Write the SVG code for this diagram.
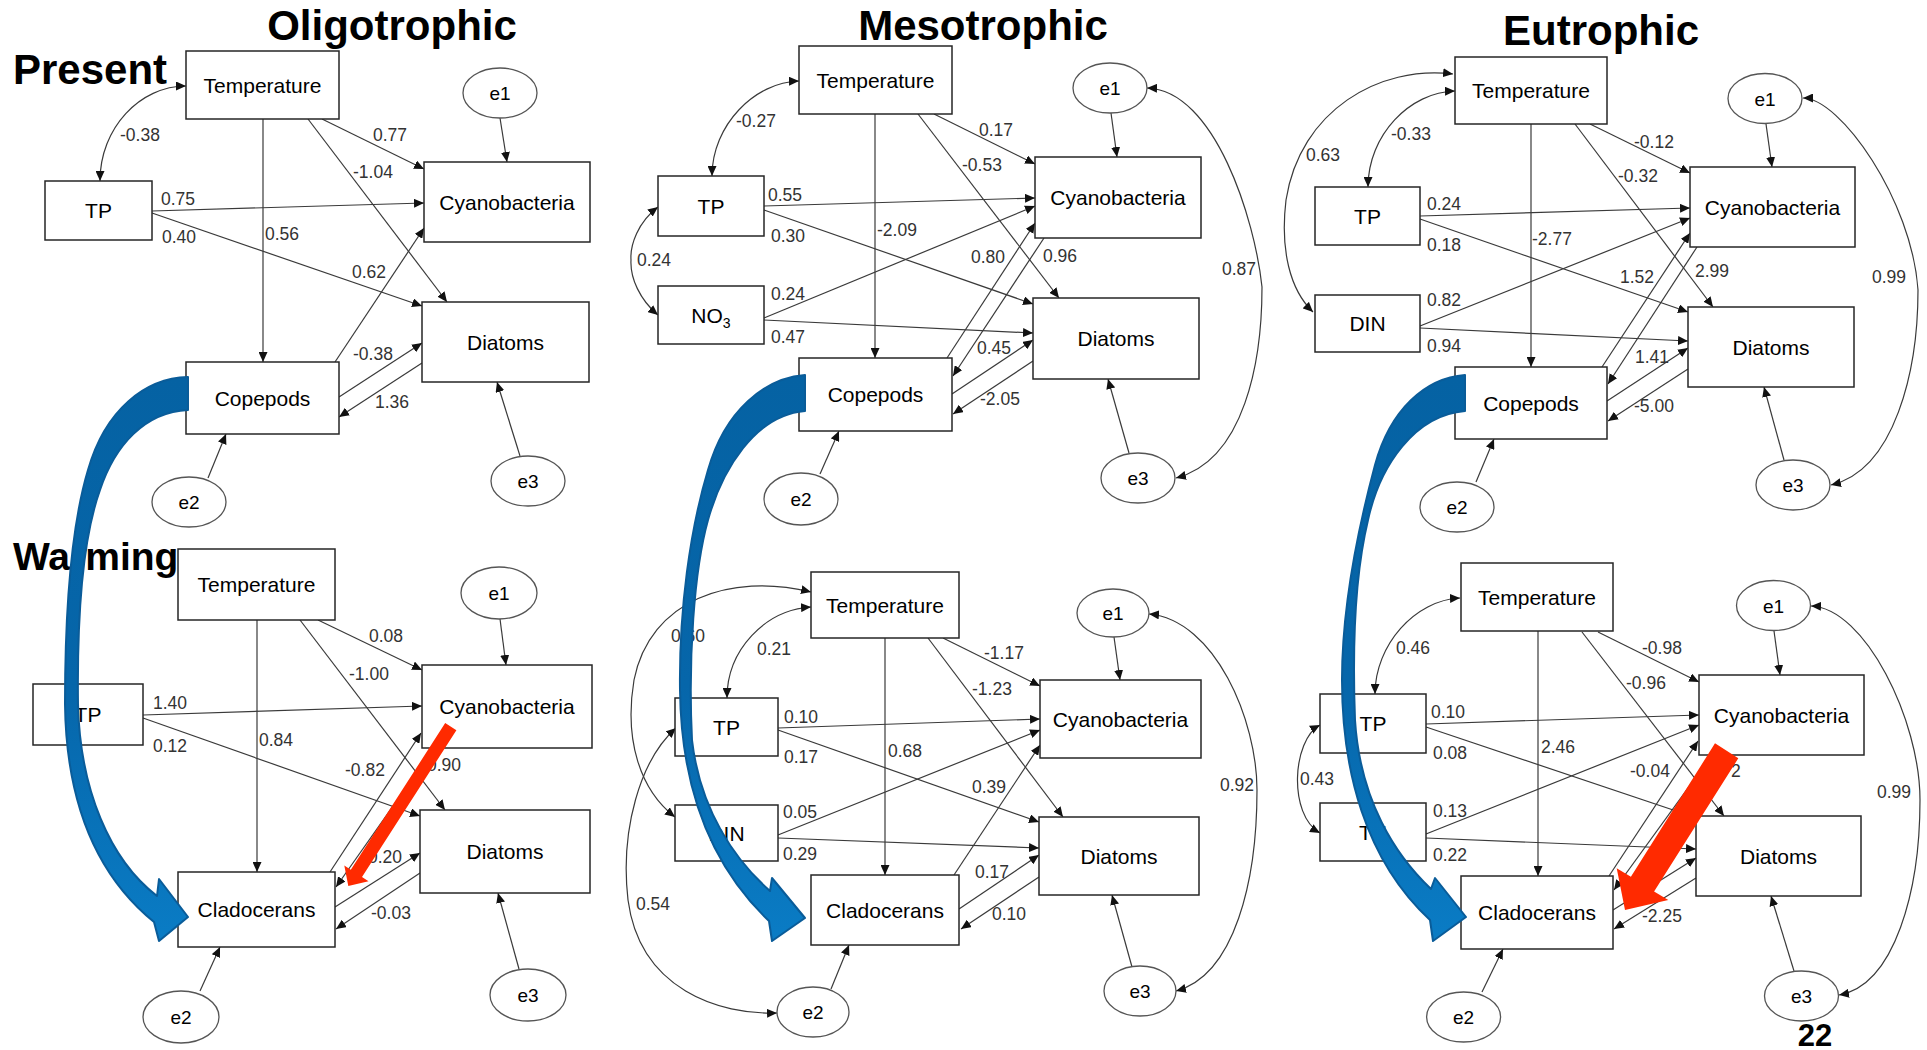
<svg xmlns="http://www.w3.org/2000/svg" width="1927" height="1050" viewBox="0 0 1927 1050">
<style>
.box{fill:#fff;stroke:#262626;stroke-width:1.5}
.ell{fill:#fff;stroke:#555;stroke-width:1.3}
.nt{font-family:"Liberation Sans",Arial,sans-serif;font-size:21px;text-anchor:middle;fill:#000}
.et{font-family:"Liberation Sans",Arial,sans-serif;font-size:19px;text-anchor:middle;fill:#000}
.lb{font-family:"Liberation Sans",Arial,sans-serif;font-size:17.5px;fill:#333}
.ttl{font-family:"Liberation Sans",Arial,sans-serif;font-weight:bold;fill:#000}
.e{fill:none;stroke:#3a3a3a;stroke-width:1.2;marker-end:url(#ah)}
.d{fill:none;stroke:#3a3a3a;stroke-width:1.2;marker-start:url(#ah);marker-end:url(#ah)}
.blue{fill:url(#bg);stroke:#0a5c99;stroke-width:2;stroke-linejoin:round}
.red{fill:#ff2a00}
</style>
<defs>
<marker id="ah" viewBox="0 0 10 9" refX="10" refY="4.5" markerWidth="10" markerHeight="9" markerUnits="userSpaceOnUse" orient="auto-start-reverse"><path d="M0,0 L10,4.5 L0,9 z" fill="#111"/></marker>
<linearGradient id="bg" x1="0" y1="0" x2="0" y2="1"><stop offset="0" stop-color="#0562a3"/><stop offset="0.55" stop-color="#0666aa"/><stop offset="1" stop-color="#0a7cc5"/></linearGradient>
</defs>
<rect width="1927" height="1050" fill="#fff"/>

<g id="titles">
<text class="ttl" x="392" y="40" font-size="42" text-anchor="middle">Oligotrophic</text>
<text class="ttl" x="983" y="40" font-size="42" text-anchor="middle">Mesotrophic</text>
<text class="ttl" x="1601" y="45" font-size="42" text-anchor="middle">Eutrophic</text>
<text class="ttl" x="13" y="84" font-size="42">Present</text>
<text class="ttl" x="13" y="570" font-size="39">Warming</text>
<text class="ttl" x="1815" y="1046" font-size="31" text-anchor="middle">22</text>
</g>

<g id="connectors">
<!-- Panel 1 -->
<path class="d" d="M186,86 C140,86 100,128 100,181"/>
<path class="e" d="M322,119 L424,169"/>
<path class="e" d="M308,119 L447,302"/>
<path class="e" d="M263,119 L263,362"/>
<path class="e" d="M152,211 L424,203"/>
<path class="e" d="M152,213 L422,306"/>
<path class="e" d="M335,362 L424,228"/>
<path class="e" d="M339,397 L422,343"/>
<path class="e" d="M422,363 L339,417"/>
<path class="e" d="M500,118 L507,162"/>
<path class="e" d="M520,456 L497,382"/>
<path class="e" d="M208,478 L226,434"/>
<text class="lb" x="120" y="141">-0.38</text>
<text class="lb" x="373" y="141">0.77</text>
<text class="lb" x="353" y="178">-1.04</text>
<text class="lb" x="161" y="205">0.75</text>
<text class="lb" x="162" y="243">0.40</text>
<text class="lb" x="265" y="240">0.56</text>
<text class="lb" x="352" y="278">0.62</text>
<text class="lb" x="353" y="360">-0.38</text>
<text class="lb" x="375" y="408">1.36</text>
<!-- Panel 4 -->
<path class="e" d="M257,620 L257,872"/>
<path class="e" d="M318,620 L422,670"/>
<path class="e" d="M300,620 L445,810"/>
<path class="e" d="M143,715 L422,706"/>
<path class="e" d="M143,718 L420,816"/>
<path class="e" d="M330,872 L421,733"/>
<path class="e" d="M434,748 L336,887"/>
<path class="e" d="M335,907 L420,853"/>
<path class="e" d="M420,873 L336,929"/>
<path class="e" d="M500,619 L506,665"/>
<path class="e" d="M519,969 L498,893"/>
<path class="e" d="M200,991 L220,947"/>
<text class="lb" x="369" y="642">0.08</text>
<text class="lb" x="349" y="680">-1.00</text>
<text class="lb" x="153" y="709">1.40</text>
<text class="lb" x="153" y="752">0.12</text>
<text class="lb" x="259" y="746">0.84</text>
<text class="lb" x="345" y="776">-0.82</text>
<text class="lb" x="427" y="771">0.90</text>
<text class="lb" x="368" y="863">0.20</text>
<text class="lb" x="371" y="919">-0.03</text>
<!-- Panel 2 -->
<path class="d" d="M799,81 C755,82 712,125 712,176"/>
<path class="d" d="M658,207 C638,222 630,245 631,260 C630,278 640,300 658,315"/>
<path class="e" d="M934,114 L1035,164"/>
<path class="e" d="M918,114 L1059,298"/>
<path class="e" d="M875,114 L875,358"/>
<path class="e" d="M764,206 L1035,198"/>
<path class="e" d="M764,210 L1033,304"/>
<path class="e" d="M764,318 L1035,206"/>
<path class="e" d="M764,320 L1033,333"/>
<path class="e" d="M947,358 L1035,223"/>
<path class="e" d="M1044,238 L953,376"/>
<path class="e" d="M952,394 L1033,340"/>
<path class="e" d="M1033,361 L953,414"/>
<path class="e" d="M1111,113 L1117,157"/>
<path class="e" d="M1129,453 L1108,379"/>
<path class="e" d="M820,474 L839,431"/>
<path class="d" d="M1147,88 C1215,90 1255,220 1262,287 C1262,360 1245,460 1176,478"/>
<text class="lb" x="736" y="127">-0.27</text>
<text class="lb" x="637" y="266">0.24</text>
<text class="lb" x="979" y="136">0.17</text>
<text class="lb" x="962" y="171">-0.53</text>
<text class="lb" x="877" y="236">-2.09</text>
<text class="lb" x="768" y="201">0.55</text>
<text class="lb" x="771" y="242">0.30</text>
<text class="lb" x="771" y="300">0.24</text>
<text class="lb" x="771" y="343">0.47</text>
<text class="lb" x="971" y="263">0.80</text>
<text class="lb" x="1043" y="262">0.96</text>
<text class="lb" x="977" y="354">0.45</text>
<text class="lb" x="980" y="405">-2.05</text>
<text class="lb" x="1222" y="275">0.87</text>
<!-- Panel 5 -->
<path class="d" d="M811,607 C765,610 727,650 727,698"/>
<path class="d" d="M811,592 C730,572 650,600 634,680 C624,740 640,790 675,817"/>
<path class="d" d="M676,728 C640,760 620,830 628,900 C640,990 720,1015 777,1013"/>
<path class="e" d="M943,638 L1040,686"/>
<path class="e" d="M928,638 L1063,817"/>
<path class="e" d="M885,638 L885,875"/>
<path class="e" d="M778,728 L1040,719"/>
<path class="e" d="M778,730 L1039,822"/>
<path class="e" d="M778,835 L1040,730"/>
<path class="e" d="M778,838 L1039,848"/>
<path class="e" d="M954,875 L1040,745"/>
<path class="e" d="M959,909 L1039,855"/>
<path class="e" d="M1039,877 L961,929"/>
<path class="e" d="M1114,637 L1120,680"/>
<path class="e" d="M1132,967 L1112,895"/>
<path class="e" d="M831,989 L849,945"/>
<path class="d" d="M1149,614 C1215,620 1257,720 1257,790 C1257,880 1235,975 1176,991"/>
<text class="lb" x="671" y="642">0.60</text>
<text class="lb" x="757" y="655">0.21</text>
<text class="lb" x="636" y="910">0.54</text>
<text class="lb" x="984" y="659">-1.17</text>
<text class="lb" x="972" y="695">-1.23</text>
<text class="lb" x="888" y="757">0.68</text>
<text class="lb" x="784" y="723">0.10</text>
<text class="lb" x="784" y="763">0.17</text>
<text class="lb" x="783" y="818">0.05</text>
<text class="lb" x="783" y="860">0.29</text>
<text class="lb" x="972" y="793">0.39</text>
<text class="lb" x="975" y="878">0.17</text>
<text class="lb" x="992" y="920">0.10</text>
<text class="lb" x="1220" y="791">0.92</text>
<!-- Panel 3 -->
<path class="d" d="M1455,91 C1410,92 1368,135 1368,187"/>
<path class="d" d="M1453,74 C1380,65 1300,110 1286,200 C1280,250 1290,290 1313,312"/>
<path class="e" d="M1590,124 L1690,173"/>
<path class="e" d="M1575,124 L1713,307"/>
<path class="e" d="M1531,124 L1531,367"/>
<path class="e" d="M1420,216 L1690,208"/>
<path class="e" d="M1420,219 L1688,312"/>
<path class="e" d="M1420,326 L1690,218"/>
<path class="e" d="M1420,328 L1688,341"/>
<path class="e" d="M1602,367 L1690,233"/>
<path class="e" d="M1697,247 L1608,384"/>
<path class="e" d="M1607,401 L1688,348"/>
<path class="e" d="M1688,369 L1608,421"/>
<path class="e" d="M1766,124 L1772,167"/>
<path class="e" d="M1784,460 L1764,387"/>
<path class="e" d="M1476,482 L1494,439"/>
<path class="d" d="M1803,98 C1840,98 1912,200 1918,290 C1918,370 1895,470 1831,485"/>
<text class="lb" x="1391" y="140">-0.33</text>
<text class="lb" x="1306" y="161">0.63</text>
<text class="lb" x="1634" y="148">-0.12</text>
<text class="lb" x="1618" y="182">-0.32</text>
<text class="lb" x="1532" y="245">-2.77</text>
<text class="lb" x="1427" y="210">0.24</text>
<text class="lb" x="1427" y="251">0.18</text>
<text class="lb" x="1427" y="306">0.82</text>
<text class="lb" x="1427" y="352">0.94</text>
<text class="lb" x="1620" y="283">1.52</text>
<text class="lb" x="1695" y="277">2.99</text>
<text class="lb" x="1635" y="363">1.41</text>
<text class="lb" x="1634" y="412">-5.00</text>
<text class="lb" x="1872" y="283">0.99</text>
<!-- Panel 6 -->
<path class="d" d="M1460,598 C1415,600 1375,645 1375,694"/>
<path class="d" d="M1320,725 C1292,740 1288,815 1320,833"/>
<path class="e" d="M1598,632 L1699,682"/>
<path class="e" d="M1582,632 L1724,816"/>
<path class="e" d="M1538,631 L1538,876"/>
<path class="e" d="M1426,724 L1699,715"/>
<path class="e" d="M1426,727 L1697,818"/>
<path class="e" d="M1426,834 L1699,725"/>
<path class="e" d="M1426,838 L1696,849"/>
<path class="e" d="M1609,876 L1698,741"/>
<path class="e" d="M1712,755 L1614,890"/>
<path class="e" d="M1613,910 L1696,858"/>
<path class="e" d="M1696,878 L1614,929"/>
<path class="e" d="M1774,631 L1780,675"/>
<path class="e" d="M1794,971 L1771,896"/>
<path class="e" d="M1482,992 L1503,949"/>
<path class="d" d="M1811,606 C1865,608 1920,720 1920,800 C1920,890 1895,985 1839,995"/>
<text class="lb" x="1396" y="654">0.46</text>
<text class="lb" x="1300" y="785">0.43</text>
<text class="lb" x="1642" y="654">-0.98</text>
<text class="lb" x="1626" y="689">-0.96</text>
<text class="lb" x="1541" y="753">2.46</text>
<text class="lb" x="1431" y="718">0.10</text>
<text class="lb" x="1433" y="759">0.08</text>
<text class="lb" x="1433" y="817">0.13</text>
<text class="lb" x="1433" y="861">0.22</text>
<text class="lb" x="1630" y="777">-0.04</text>
<text class="lb" x="1731" y="777">2</text>
<text class="lb" x="1642" y="922">-2.25</text>
<text class="lb" x="1877" y="798">0.99</text>
</g>

<!-- Panel 1 nodes -->
<g id="p1-temperature"><rect class="box" x="186" y="51" width="153" height="68"/><text class="nt" x="262.5" y="93">Temperature</text></g>
<g id="p1-e1"><ellipse class="ell" cx="500" cy="93" rx="37" ry="25"/><text class="et" x="500" y="100">e1</text></g>
<g id="p1-tp"><rect class="box" x="45" y="181" width="107" height="59"/><text class="nt" x="98.5" y="218">TP</text></g>
<g id="p1-cyano"><rect class="box" x="424" y="162" width="166" height="80"/><text class="nt" x="507" y="210">Cyanobacteria</text></g>
<g id="p1-diatoms"><rect class="box" x="422" y="302" width="167" height="80"/><text class="nt" x="505.5" y="350">Diatoms</text></g>
<g id="p1-copepods"><rect class="box" x="186" y="362" width="153" height="72"/><text class="nt" x="262.5" y="406">Copepods</text></g>
<g id="p1-e2"><ellipse class="ell" cx="189" cy="502" rx="37" ry="25"/><text class="et" x="189" y="509">e2</text></g>
<g id="p1-e3"><ellipse class="ell" cx="528" cy="481" rx="37" ry="25"/><text class="et" x="528" y="488">e3</text></g>

<!-- Panel 4 nodes -->
<g id="p4-temperature"><rect class="box" x="178" y="549" width="157" height="71"/><text class="nt" x="256.5" y="592">Temperature</text></g>
<g id="p4-e1"><ellipse class="ell" cx="499" cy="593" rx="38" ry="26"/><text class="et" x="499" y="600">e1</text></g>
<g id="p4-tp"><rect class="box" x="33" y="684" width="110" height="61"/><text class="nt" x="88" y="722">TP</text></g>
<g id="p4-cyano"><rect class="box" x="422" y="665" width="170" height="83"/><text class="nt" x="507" y="714">Cyanobacteria</text></g>
<g id="p4-diatoms"><rect class="box" x="420" y="810" width="170" height="83"/><text class="nt" x="505" y="859">Diatoms</text></g>
<g id="p4-cladocerans"><rect class="box" x="178" y="872" width="157" height="75"/><text class="nt" x="256.5" y="917">Cladocerans</text></g>
<g id="p4-e2"><ellipse class="ell" cx="181" cy="1017" rx="38" ry="26"/><text class="et" x="181" y="1024">e2</text></g>
<g id="p4-e3"><ellipse class="ell" cx="528" cy="995" rx="38" ry="26"/><text class="et" x="528" y="1002">e3</text></g>

<!-- Panel 2 nodes -->
<g id="p2-temperature"><rect class="box" x="799" y="46" width="153" height="68"/><text class="nt" x="875.5" y="88">Temperature</text></g>
<g id="p2-e1"><ellipse class="ell" cx="1110" cy="88" rx="37" ry="25"/><text class="et" x="1110" y="95">e1</text></g>
<g id="p2-tp"><rect class="box" x="658" y="176" width="106" height="60"/><text class="nt" x="711" y="214">TP</text></g>
<g id="p2-no3"><rect class="box" x="658" y="286" width="106" height="58"/><text class="nt" x="711" y="323">NO<tspan font-size="14" dy="5">3</tspan></text></g>
<g id="p2-cyano"><rect class="box" x="1035" y="157" width="166" height="81"/><text class="nt" x="1118" y="205">Cyanobacteria</text></g>
<g id="p2-diatoms"><rect class="box" x="1033" y="298" width="166" height="81"/><text class="nt" x="1116" y="346">Diatoms</text></g>
<g id="p2-copepods"><rect class="box" x="799" y="358" width="153" height="73"/><text class="nt" x="875.5" y="402">Copepods</text></g>
<g id="p2-e2"><ellipse class="ell" cx="801" cy="499" rx="37" ry="26"/><text class="et" x="801" y="506">e2</text></g>
<g id="p2-e3"><ellipse class="ell" cx="1138" cy="478" rx="37" ry="25"/><text class="et" x="1138" y="485">e3</text></g>

<!-- Panel 5 nodes -->
<g id="p5-temperature"><rect class="box" x="811" y="572" width="148" height="66"/><text class="nt" x="885" y="613">Temperature</text></g>
<g id="p5-e1"><ellipse class="ell" cx="1113" cy="613" rx="36" ry="24"/><text class="et" x="1113" y="620">e1</text></g>
<g id="p5-tp"><rect class="box" x="675" y="698" width="103" height="58"/><text class="nt" x="726.5" y="735">TP</text></g>
<g id="p5-din"><rect class="box" x="675" y="805" width="103" height="56"/><text class="nt" x="726.5" y="841">DIN</text></g>
<g id="p5-cyano"><rect class="box" x="1040" y="680" width="161" height="78"/><text class="nt" x="1120.5" y="727">Cyanobacteria</text></g>
<g id="p5-diatoms"><rect class="box" x="1039" y="817" width="160" height="78"/><text class="nt" x="1119" y="864">Diatoms</text></g>
<g id="p5-cladocerans"><rect class="box" x="811" y="875" width="148" height="70"/><text class="nt" x="885" y="918">Cladocerans</text></g>
<g id="p5-e2"><ellipse class="ell" cx="813" cy="1012" rx="36" ry="25"/><text class="et" x="813" y="1019">e2</text></g>
<g id="p5-e3"><ellipse class="ell" cx="1140" cy="991" rx="36" ry="25"/><text class="et" x="1140" y="998">e3</text></g>

<!-- Panel 3 nodes -->
<g id="p3-temperature"><rect class="box" x="1455" y="57" width="152" height="67"/><text class="nt" x="1531" y="98">Temperature</text></g>
<g id="p3-e1"><ellipse class="ell" cx="1765" cy="98.5" rx="37" ry="25"/><text class="et" x="1765" y="105.5">e1</text></g>
<g id="p3-tp"><rect class="box" x="1315" y="187" width="105" height="58"/><text class="nt" x="1367.5" y="224">TP</text></g>
<g id="p3-din"><rect class="box" x="1315" y="295" width="105" height="57"/><text class="nt" x="1367.5" y="331">DIN</text></g>
<g id="p3-cyano"><rect class="box" x="1690" y="167" width="165" height="80"/><text class="nt" x="1772.5" y="215">Cyanobacteria</text></g>
<g id="p3-diatoms"><rect class="box" x="1688" y="307" width="166" height="80"/><text class="nt" x="1771" y="355">Diatoms</text></g>
<g id="p3-copepods"><rect class="box" x="1455" y="367" width="152" height="72"/><text class="nt" x="1531" y="411">Copepods</text></g>
<g id="p3-e2"><ellipse class="ell" cx="1457" cy="507" rx="37" ry="25"/><text class="et" x="1457" y="514">e2</text></g>
<g id="p3-e3"><ellipse class="ell" cx="1793" cy="485" rx="37" ry="25"/><text class="et" x="1793" y="492">e3</text></g>

<!-- Panel 6 nodes -->
<g id="p6-temperature"><rect class="box" x="1461" y="563" width="152" height="68"/><text class="nt" x="1537" y="605">Temperature</text></g>
<g id="p6-e1"><ellipse class="ell" cx="1773.5" cy="605.5" rx="37" ry="25"/><text class="et" x="1773.5" y="612.5">e1</text></g>
<g id="p6-tp"><rect class="box" x="1320" y="694" width="106" height="59"/><text class="nt" x="1373" y="731">TP</text></g>
<g id="p6-tn"><rect class="box" x="1320" y="803" width="106" height="58"/><text class="nt" x="1373" y="840">TN</text></g>
<g id="p6-cyano"><rect class="box" x="1699" y="675" width="165" height="80"/><text class="nt" x="1781.5" y="723">Cyanobacteria</text></g>
<g id="p6-diatoms"><rect class="box" x="1696" y="816" width="165" height="80"/><text class="nt" x="1778.5" y="864">Diatoms</text></g>
<g id="p6-cladocerans"><rect class="box" x="1461" y="876" width="152" height="73"/><text class="nt" x="1537" y="920">Cladocerans</text></g>
<g id="p6-e2"><ellipse class="ell" cx="1463.6" cy="1017" rx="37" ry="25"/><text class="et" x="1463.6" y="1024">e2</text></g>
<g id="p6-e3"><ellipse class="ell" cx="1801.5" cy="996" rx="37" ry="25"/><text class="et" x="1801.5" y="1003">e3</text></g>

<g id="highlight-arrows">
<path class="blue" d="M188,377 C145,378 105,410 88,470 C70,530 65,620 65,704 C66,790 90,870 154,922 L159,941 L188,917 L159,879 L157,896 C110,860 80,790 78,704 C77,620 82,540 100,490 C115,445 145,412 188,410 Z"/>
<path class="blue" d="M805,375 C765,378 725,410 708,470 C690,530 679,610 680,690 C681,780 705,860 769,921 L772,941 L805,918 L772,878 L770,891 C735,860 700,810 692,740 C688,660 694,570 708,520 C722,470 755,415 805,411 Z"/>
<path class="blue" d="M1465,375 C1425,378 1390,410 1375,465 C1355,540 1342,610 1342,680 C1342,770 1365,860 1430,920 L1433,941 L1466,917 L1435,878 L1431,889 C1395,855 1360,800 1355,720 C1352,640 1356,570 1368,520 C1380,465 1415,415 1465,411 Z"/>
<polygon class="red" points="445.2,723.1 456.4,730.3 362,877 368.5,881.2 348.3,886 344.3,865.6 350.8,869.8"/>
<polygon class="red" points="1715,743.3 1738.3,758.3 1654.1,891.6 1668.3,900 1625,910 1616.7,868.3 1630.9,876.8"/>
</g>
</svg>
